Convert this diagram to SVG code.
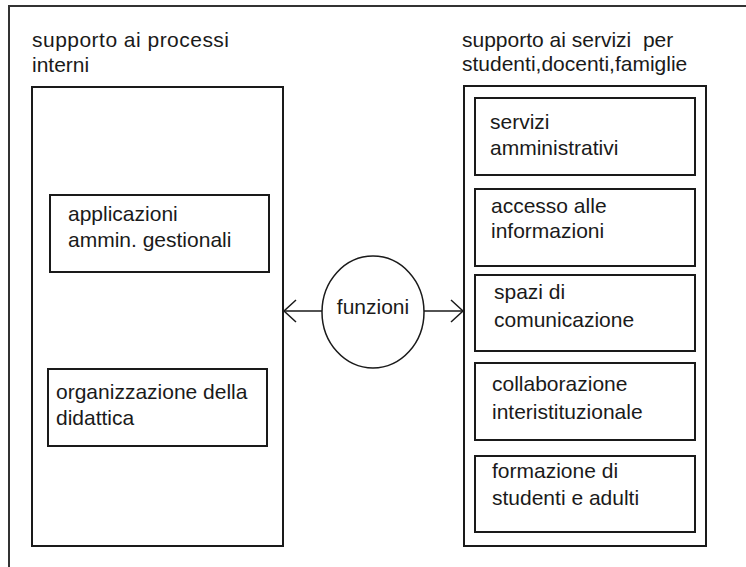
<svg xmlns="http://www.w3.org/2000/svg" width="746" height="567" viewBox="0 0 746 567">
<defs>
<style>
text{font-family:"Liberation Sans",Arial,sans-serif;font-size:21px;fill:#1a1a1a;white-space:pre}
.box{fill:#fff;stroke:#1a1a1a;stroke-width:2}
.frame{fill:none;stroke:#333;stroke-width:2}
.conn{stroke:#1a1a1a;stroke-width:1.5;fill:none}
</style>
<marker id="arr" markerUnits="userSpaceOnUse" markerWidth="16" markerHeight="26" viewBox="0 -13 16 26" refX="14" refY="0" orient="auto">
<path d="M2,-11 L14,0 L2,11" fill="none" stroke="#1a1a1a" stroke-width="1.5"/>
</marker>
</defs>
<rect width="746" height="567" fill="#fff"/>
<path class="frame" d="M9,567 L9,6 L746,6"/>

<g id="left">
<text x="32" y="47" textLength="197" lengthAdjust="spacing">supporto ai processi</text>
<text x="32" y="72">interni</text>
<rect class="box" x="32" y="87" width="251" height="459"/>
</g>
<g id="applicazioni">
<rect class="box" x="50" y="195" width="219" height="77"/>
<text x="68" y="221">applicazioni</text>
<text x="68" y="247">ammin. gestionali</text>
</g>
<g id="organizzazione">
<rect class="box" x="48" y="369" width="219" height="77"/>
<text x="56" y="399">organizzazione della</text>
<text x="56" y="425">didattica</text>
</g>

<g id="right">
<text x="462" y="47" xml:space="preserve">supporto ai servizi  per</text>
<text x="462" y="71">studenti,docenti,famiglie</text>
<rect class="box" x="464" y="86" width="242" height="460"/>
</g>
<g id="servizi">
<rect class="box" x="475" y="98" width="220" height="77"/>
<text x="490" y="129">servizi</text>
<text x="490" y="155">amministrativi</text>
</g>
<g id="accesso">
<rect class="box" x="475" y="189" width="220" height="77"/>
<text x="491" y="213">accesso alle</text>
<text x="491" y="238">informazioni</text>
</g>
<g id="spazi">
<rect class="box" x="475" y="275" width="220" height="76"/>
<text x="494" y="299">spazi di</text>
<text x="494" y="327">comunicazione</text>
</g>
<g id="collaborazione">
<rect class="box" x="475" y="363" width="220" height="77"/>
<text x="492" y="391">collaborazione</text>
<text x="492" y="419">interistituzionale</text>
</g>
<g id="formazione">
<rect class="box" x="475" y="456" width="220" height="76"/>
<text x="492" y="478">formazione di</text>
<text x="492" y="505">studenti e adulti</text>
</g>

<g id="funzioni">
<ellipse cx="373" cy="312" rx="51" ry="56" fill="#fff" stroke="#1a1a1a" stroke-width="1.5"/>
<text x="373" y="314" text-anchor="middle">funzioni</text>
</g>

<g id="connectors">
<line class="conn" x1="322" y1="311" x2="284" y2="311" marker-end="url(#arr)"/>
<line class="conn" x1="424" y1="311" x2="463" y2="311" marker-end="url(#arr)"/>
</g>
</svg>
